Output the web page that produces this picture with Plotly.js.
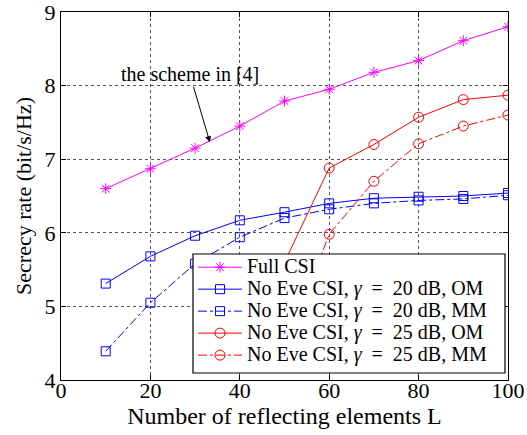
<!DOCTYPE html>
<html>
<head>
<meta charset="utf-8">
<script src="https://cdn.plot.ly/plotly-3.0.1.min.js"></script>
<style>html,body{margin:0;padding:0;background:#fff}#chart{width:527px;height:435px}</style>
</head>
<body>
<div id="chart"></div>
<script>
const L = [10, 20, 30, 40, 50, 60, 70, 80, 90, 100];
const fullCSI = [6.60, 6.87, 7.15, 7.45, 7.79, 7.95, 8.18, 8.34, 8.61, 8.80];
const om20 = [5.31, 5.68, 5.96, 6.17, 6.28, 6.40, 6.47, 6.49, 6.50, 6.54];
const mm20 = [4.39, 5.05, 5.58, 5.94, 6.20, 6.32, 6.40, 6.44, 6.46, 6.51];
const Lred = [50, 60, 70, 80, 90, 100];
const om25 = [5.60, 6.88, 7.20, 7.57, 7.81, 7.87];
const mm25 = [4.40, 5.98, 6.70, 7.21, 7.45, 7.60];

function lbl(t) { return '<span style="font-size:20px">' + t + '</span>'; }
function eve(g, m) { return lbl('No Eve CSI, <i>γ</i>  =  ' + g + ' dB, ' + m); }
const names = [
  lbl('Full CSI'),
  eve('20', 'OM'),
  eve('20', 'MM'),
  eve('25', 'OM'),
  eve('25', 'MM')
];

const serif = "'Liberation Serif', 'Times New Roman', serif";

const traces = [
  {x: L, y: fullCSI, name: names[0], mode: 'lines+markers',
   line: {color: '#ff00ff', width: 1}, marker: {symbol: 'asterisk-open', size: 9, color: '#ff00ff', line: {color: '#ff00ff', width: 1}}},
  {x: L, y: om20, name: names[1], mode: 'lines+markers',
   line: {color: '#0000ff', width: 1}, marker: {symbol: 'square-open', size: 9, color: '#0000ff', line: {width: 1}}},
  {x: L, y: mm20, name: names[2], mode: 'lines+markers',
   line: {color: '#0000ff', width: 1, dash: 'dashdot'}, marker: {symbol: 'square-open', size: 9, color: '#0000ff', line: {width: 1}}},
  {x: Lred, y: om25, name: names[3], mode: 'lines+markers',
   line: {color: '#ff0000', width: 1}, marker: {symbol: 'circle-open', size: 10, color: '#ff0000', line: {width: 1}}},
  {x: Lred, y: mm25, name: names[4], mode: 'lines+markers',
   line: {color: '#ff0000', width: 1, dash: 'dashdot'}, marker: {symbol: 'circle-open', size: 10, color: '#ff0000', line: {width: 1}}}
];

const axisCommon = {
  showline: true, linecolor: '#000', linewidth: 1.2, mirror: 'allticks',
  ticks: 'inside', ticklen: 5, tickcolor: '#000',
  showgrid: true, gridcolor: '#555', griddash: 'dot', gridwidth: 1,
  zeroline: false, ticklabeloverflow: 'allow',
  tickfont: {family: serif, size: 22, color: '#000'}
};

const layout = {
  width: 527, height: 435,
  margin: {l: 61, r: 19, t: 12, b: 55},
  paper_bgcolor: '#fff', plot_bgcolor: '#fff',
  font: {family: serif, color: '#000'},
  showlegend: true,
  xaxis: Object.assign({}, axisCommon, {
    range: [0, 100], tickvals: [0, 20, 40, 60, 80, 100], ticklabelstandoff: -10,
    title: {text: 'Number of reflecting elements L', font: {family: serif, size: 24}, standoff: 0}
  }),
  yaxis: Object.assign({}, axisCommon, {
    range: [4, 9], tickvals: [4, 5, 6, 7, 8, 9], ticklabelstandoff: 0,
    title: {text: 'Secrecy rate (bit/s/Hz)', font: {family: serif, size: 22}, standoff: 6}
  }),
  shapes: [{
    type: 'rect', xref: 'paper', yref: 'paper',
    x0: 0.2953, x1: 0.9933, y0: 0.019, y1: 0.3424,
    fillcolor: '#fff', line: {color: '#000', width: 1.2}, layer: 'above'
  }],
  legend: {
    x: 0.2953, y: 0.350, xanchor: 'left', yanchor: 'top',
    bgcolor: 'rgba(0,0,0,0)', borderwidth: 0,
    font: {family: serif, size: 14.6, color: '#000'},
    tracegroupgap: 0, itemwidth: 44
  },
  annotations: [{
    x: 33.3, y: 7.23, xref: 'x', yref: 'y',
    ax: -20, ay: -68, axref: 'pixel', ayref: 'pixel',
    text: 'the scheme in [4]', showarrow: true,
    arrowhead: 2, arrowsize: 1.2, arrowwidth: 1, arrowcolor: '#000',
    font: {family: serif, size: 20, color: '#000'}
  }]
};

Plotly.newPlot('chart', traces, layout, {displayModeBar: false, staticPlot: true});
</script>
</body>
</html>
